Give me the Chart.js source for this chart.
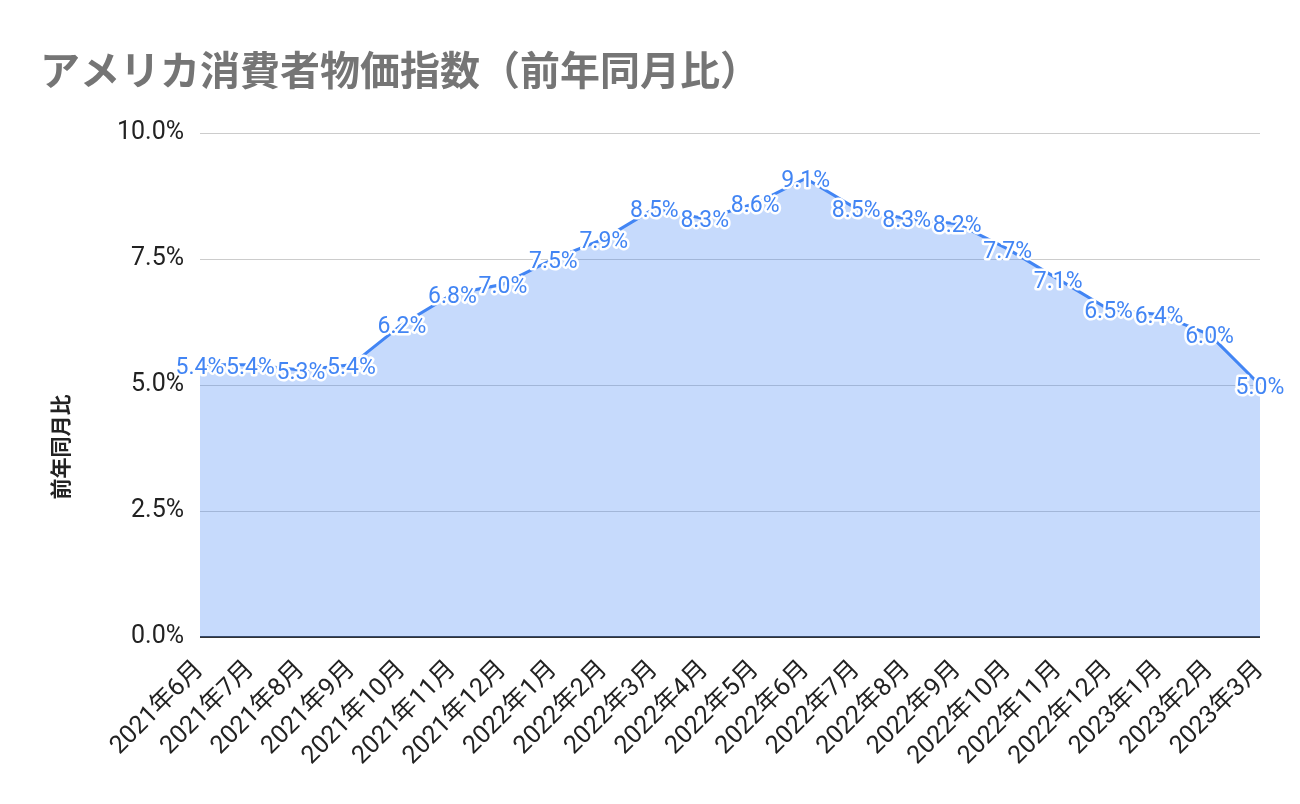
<!DOCTYPE html>
<html>
<head>
<meta charset="utf-8">
<script src="https://cdn.jsdelivr.net/npm/chart.js@4"></script>
<style>
  html, body { margin: 0; padding: 0; background: #fff; }
  #wrap { width: 1300px; height: 804px; position: relative; }
</style>
</head>
<body>
<div id="wrap"><canvas id="cpiChart"></canvas></div>
<script>
const chartTitle = 'アメリカ消費者物価指数（前年同月比）';
const yAxisTitle = '前年同月比';

const months = [
    '2021年6月', '2021年7月', '2021年8月', '2021年9月', '2021年10月', '2021年11月',
    '2021年12月', '2022年1月', '2022年2月', '2022年3月', '2022年4月', '2022年5月',
    '2022年6月', '2022年7月', '2022年8月', '2022年9月', '2022年10月', '2022年11月',
    '2022年12月', '2023年1月', '2023年2月', '2023年3月'
];
const cpiYoY = [5.4, 5.4, 5.3, 5.4, 6.2, 6.8, 7.0, 7.5, 7.9, 8.5, 8.3, 8.6,
                9.1, 8.5, 8.3, 8.2, 7.7, 7.1, 6.5, 6.4, 6.0, 5.0];
const yTicks = [0, 2.5, 5, 7.5, 10];

const FONT = "Roboto, 'Noto Sans CJK JP', sans-serif";

// Draws the chart title and the rotated axis title
const titlePlugin = {
    id: 'titles',
    afterDraw(chart) {
        const ctx = chart.ctx;
        ctx.save();
        ctx.fillStyle = '#757575';
        ctx.font = "bold 40px 'Noto Sans CJK JP', sans-serif";
        ctx.textBaseline = 'middle';
        ctx.textAlign = 'left';
        ctx.fillText(chartTitle, 40, 70);

        ctx.translate(60, 447);
        ctx.rotate(-Math.PI / 2);
        ctx.fillStyle = '#222';
        ctx.font = "bold 21px 'Noto Sans CJK JP', sans-serif";
        ctx.textAlign = 'center';
        ctx.fillText(yAxisTitle, 0, 0);
        ctx.restore();
    }
};

// Value labels on each point, blue with a white halo
const pointLabels = {
    id: 'pointLabels',
    afterDatasetsDraw(chart) {
        const ctx = chart.ctx;
        const meta = chart.getDatasetMeta(0);
        ctx.save();
        ctx.font = '23px ' + FONT;
        ctx.textAlign = 'center';
        ctx.textBaseline = 'middle';
        ctx.lineJoin = 'round';
        meta.data.forEach((pt, i) => {
            const txt = cpiYoY[i].toFixed(1) + '%';
            ctx.strokeStyle = '#fff';
            ctx.lineWidth = 5;
            ctx.strokeText(txt, pt.x, pt.y + 3);
            ctx.fillStyle = '#4285f4';
            ctx.fillText(txt, pt.x, pt.y + 3);
        });
        ctx.restore();
    }
};

document.addEventListener('DOMContentLoaded', function () {
    const ctx = document.getElementById('cpiChart').getContext('2d');
    new Chart(ctx, {
        type: 'line',
        data: {
            labels: months,
            datasets: [{
                label: yAxisTitle,
                data: cpiYoY,
                borderColor: '#4285f4',
                borderWidth: 3,
                backgroundColor: 'rgba(66, 133, 244, 0.3)',
                fill: 'origin',
                pointRadius: 0,
                tension: 0
            }]
        },
        options: {
            responsive: true,
            maintainAspectRatio: false,
            animation: false,
            layout: { padding: { top: 133, left: 100, right: 40, bottom: 0 } },
            plugins: {
                legend: { display: false },
                tooltip: { enabled: false }
            },
            scales: {
                x: {
                    offset: false,
                    grid: { display: false },
                    border: { display: false },
                    afterFit(axis) { axis.height = 167; },
                    ticks: {
                        color: '#222',
                        font: { family: FONT, size: 25 },
                        maxRotation: 45,
                        minRotation: 45,
                        autoSkip: false,
                        padding: 10
                    }
                },
                y: {
                    min: 0,
                    max: 10,
                    afterBuildTicks(axis) {
                        axis.ticks = yTicks.map(v => ({ value: v }));
                    },
                    afterFit(axis) { axis.width = 100; },
                    grid: {
                        color: c => c.tick && c.tick.value === 0 ? '#333' : '#ccc',
                        lineWidth: c => c.tick && c.tick.value === 0 ? 2 : 1,
                        drawTicks: false
                    },
                    border: { display: false },
                    ticks: {
                        color: '#222',
                        font: { family: FONT, size: 25 },
                        padding: 16,
                        callback: v => v.toFixed(1) + '%'
                    }
                }
            }
        },
        plugins: [titlePlugin, pointLabels]
    });
});
</script>
</body>
</html>
